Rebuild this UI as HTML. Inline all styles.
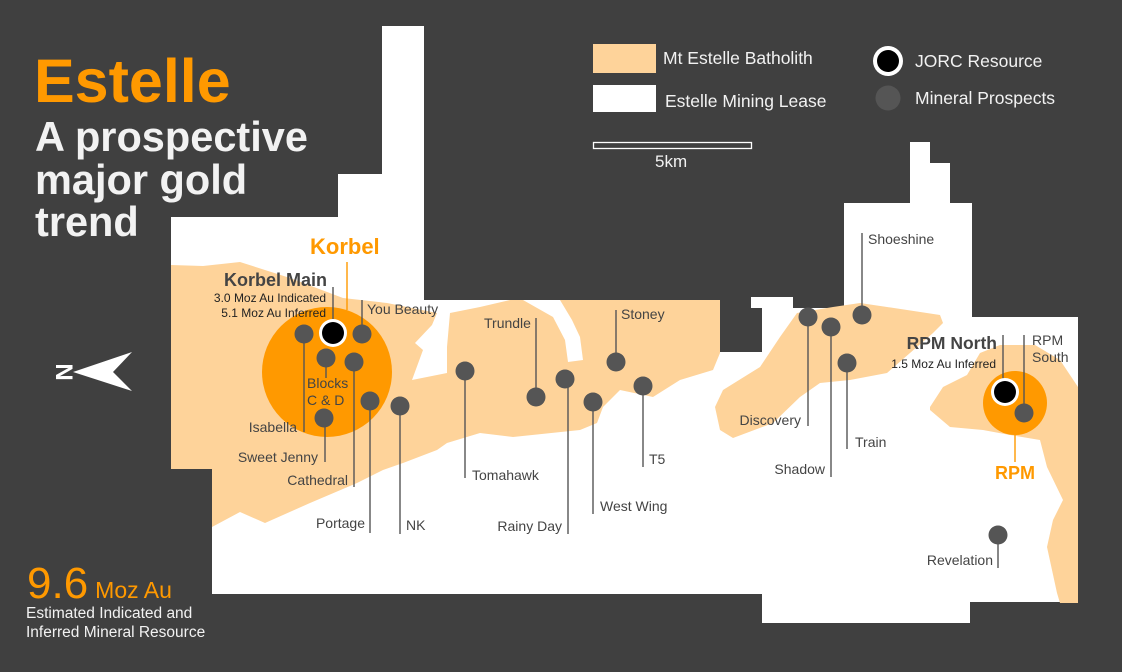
<!DOCTYPE html>
<html><head><meta charset="utf-8"><style>
html,body{margin:0;padding:0;background:#404040;}
svg{display:block;font-family:"Liberation Sans",sans-serif;}
.l{font-size:14px;fill:#444;}
.ln{stroke:#555;stroke-width:1.4;}
</style></head><body>
<svg width="1122" height="672" viewBox="0 0 1122 672">
<rect width="1122" height="672" fill="#404040"/>
<path d="M171,217 L338,217 L338,174 L382,174 L382,26 L424,26 L424,300 L720,300 L720,352 L762,352 L762,308 L751,308 L751,297 L793,297 L793,308 L844,308 L844,203 L910,203 L910,142 L930,142 L930,163 L950,163 L950,203 L972,203 L972,317 L1078,317 L1078,602 L970,602 L970,623 L762,623 L762,594 L212,594 L212,469 L171,469 Z" fill="#fff"/>
<!-- main batholith -->
<path d="M171,265 L203,266 L240,262 L290,278 L343,298 L387,303 L437,313 L432,325 L415,343 L423,350 L412,380 L447,373 L447,347 L450,313 L480,307 L510,300 L523,300 L553,317 L565,340 L568,362 L583,360 L580,337 L572,320 L560,300 L720,300 L720,353 L713,370 L680,380 L653,397 L620,390 L603,407 L597,423 L580,430 L513,437 L480,433 L447,443 L437,450 L403,463 L383,470 L357,483 L310,503 L265,523 L240,512 L212,527 L212,469 L171,469 Z" fill="#fed39a"/>
<!-- east batholith -->
<path d="M715,407 L723,390 L760,367 L780,337 L797,313 L833,307 L860,303 L887,307 L940,315 L943,323 L933,333 L887,373 L850,380 L820,383 L800,397 L773,423 L733,438 L720,430 Z" fill="#fed39a"/>
<!-- RPM batholith -->
<path d="M930,407 L943,387 L967,375 L980,353 L1000,345 L1035,345 L1060,360 L1078,387 L1078,603 L1060,603 L1057,593 L1047,547 L1053,520 L1063,500 L1047,467 L1040,440 L1010,435 L983,430 L950,427 L930,410 Z" fill="#fed39a"/>
<circle cx="327" cy="372" r="65" fill="#ff9900"/>
<circle cx="1015" cy="403" r="32" fill="#ff9900"/>
<!-- leader lines -->
<g class="ln">
<line x1="333" y1="287" x2="333" y2="322"/>
<line x1="362" y1="300" x2="362" y2="330"/>
<line x1="304" y1="340" x2="304" y2="432"/>
<line x1="326" y1="362" x2="326" y2="378"/>
<line x1="325" y1="420" x2="325" y2="462"/>
<line x1="354" y1="365" x2="354" y2="487"/>
<line x1="370" y1="405" x2="370" y2="533"/>
<line x1="400" y1="410" x2="400" y2="534"/>
<line x1="465" y1="375" x2="465" y2="478"/>
<line x1="536" y1="318" x2="536" y2="395"/>
<line x1="568" y1="382" x2="568" y2="534"/>
<line x1="593" y1="405" x2="593" y2="514"/>
<line x1="616" y1="310" x2="616" y2="360"/>
<line x1="643" y1="390" x2="643" y2="467"/>
<line x1="808" y1="320" x2="808" y2="426"/>
<line x1="831" y1="330" x2="831" y2="477"/>
<line x1="847" y1="366" x2="847" y2="449"/>
<line x1="862" y1="233" x2="862" y2="312"/>
<line x1="1003" y1="335" x2="1003" y2="382"/>
<line x1="1024" y1="335" x2="1024" y2="408"/>
<line x1="998" y1="540" x2="998" y2="568"/>
</g>
<line x1="347" y1="262" x2="347" y2="310" stroke="#ff9900" stroke-width="1.4"/>
<line x1="1015" y1="433" x2="1015" y2="462" stroke="#ff9900" stroke-width="1.4"/>
<!-- dots -->
<g fill="#555">
<circle cx="304" cy="334" r="9.5"/><circle cx="362" cy="334" r="9.5"/><circle cx="326" cy="358" r="9.5"/>
<circle cx="354" cy="362" r="9.5"/><circle cx="324" cy="418" r="9.5"/><circle cx="370" cy="401" r="9.5"/>
<circle cx="400" cy="406" r="9.5"/><circle cx="465" cy="371" r="9.5"/><circle cx="536" cy="397" r="9.5"/>
<circle cx="565" cy="379" r="9.5"/><circle cx="593" cy="402" r="9.5"/><circle cx="616" cy="362" r="9.5"/>
<circle cx="643" cy="386" r="9.5"/><circle cx="808" cy="317" r="9.5"/><circle cx="831" cy="327" r="9.5"/>
<circle cx="862" cy="315" r="9.5"/><circle cx="847" cy="363" r="9.5"/><circle cx="998" cy="535" r="9.5"/>
<circle cx="1024" cy="413" r="9.5"/>
</g>
<circle cx="333" cy="333" r="14" fill="#fff"/><circle cx="333" cy="333" r="11" fill="#000"/>
<circle cx="1005" cy="392" r="14" fill="#fff"/><circle cx="1005" cy="392" r="11" fill="#000"/>
<!-- labels -->
<text x="310" y="254" font-size="22" font-weight="bold" fill="#ff9900">Korbel</text>
<text x="327" y="286" font-size="18" font-weight="bold" fill="#444" text-anchor="end">Korbel Main</text>
<text x="326" y="302" font-size="12" fill="#222" text-anchor="end">3.0 Moz Au Indicated</text>
<text x="326" y="317" font-size="12" fill="#222" text-anchor="end">5.1 Moz Au Inferred</text>
<text x="367" y="314" class="l">You Beauty</text>
<text x="484" y="328" class="l">Trundle</text>
<text x="621" y="319" class="l">Stoney</text>
<text x="307" y="388" class="l">Blocks</text>
<text x="307" y="405" class="l">C &amp; D</text>
<text x="297" y="432" class="l" text-anchor="end">Isabella</text>
<text x="318" y="462" class="l" text-anchor="end">Sweet Jenny</text>
<text x="348" y="485" class="l" text-anchor="end">Cathedral</text>
<text x="365" y="528" class="l" text-anchor="end">Portage</text>
<text x="406" y="530" class="l">NK</text>
<text x="472" y="480" class="l">Tomahawk</text>
<text x="562" y="531" class="l" text-anchor="end">Rainy Day</text>
<text x="600" y="511" class="l">West Wing</text>
<text x="649" y="464" class="l">T5</text>
<text x="801" y="425" class="l" text-anchor="end">Discovery</text>
<text x="825" y="474" class="l" text-anchor="end">Shadow</text>
<text x="855" y="447" class="l">Train</text>
<text x="868" y="244" class="l">Shoeshine</text>
<text x="997" y="349" font-size="17.5" font-weight="bold" fill="#444" text-anchor="end">RPM North</text>
<text x="996" y="368" font-size="12" fill="#222" text-anchor="end">1.5 Moz Au Inferred</text>
<text x="1032" y="345" class="l">RPM</text>
<text x="1032" y="362" class="l">South</text>
<text x="995" y="479" font-size="18" font-weight="bold" fill="#ff9900">RPM</text>
<text x="993" y="565" class="l" text-anchor="end">Revelation</text>
<!-- title -->
<text x="34" y="102" font-size="61" font-weight="bold" fill="#ff9900">Estelle</text>
<g font-size="41.5" font-weight="bold" fill="#f2f2f2">
<text x="35" y="151">A prospective</text>
<text x="35" y="194">major gold</text>
<text x="35" y="236">trend</text>
</g>
<text x="27" y="598" fill="#ff9900"><tspan font-size="44">9.6</tspan><tspan font-size="23" dx="7">Moz Au</tspan></text>
<text x="26" y="618" font-size="15.5" fill="#f2f2f2">Estimated Indicated and</text>
<text x="26" y="637" font-size="15.5" fill="#f2f2f2">Inferred Mineral Resource</text>
<!-- north arrow -->
<text x="0" y="0" font-size="24" font-weight="bold" fill="#fff" transform="translate(65,372) rotate(90)" text-anchor="middle" dy="9">N</text>
<polygon points="73,372 132,352 113,372 132,391" fill="#fff"/>
<!-- legend -->
<rect x="593" y="44" width="63" height="29" fill="#fed39a"/>
<rect x="593" y="85" width="63" height="27" fill="#fff"/>
<text x="663" y="64" font-size="17.5" fill="#f2f2f2">Mt Estelle Batholith</text>
<text x="665" y="107" font-size="17.5" fill="#f2f2f2">Estelle Mining Lease</text>
<rect x="593.5" y="142.5" width="158" height="6" fill="none" stroke="#fff" stroke-width="1.3"/>
<text x="655" y="167" font-size="17" fill="#f2f2f2">5km</text>
<circle cx="888" cy="61" r="15" fill="#fff"/><circle cx="888" cy="61" r="11" fill="#000"/>
<text x="915" y="67" font-size="17.5" fill="#f2f2f2">JORC Resource</text>
<circle cx="888" cy="98" r="12.5" fill="#555"/>
<text x="915" y="104" font-size="17.5" fill="#f2f2f2">Mineral Prospects</text>
</svg>
</body></html>
